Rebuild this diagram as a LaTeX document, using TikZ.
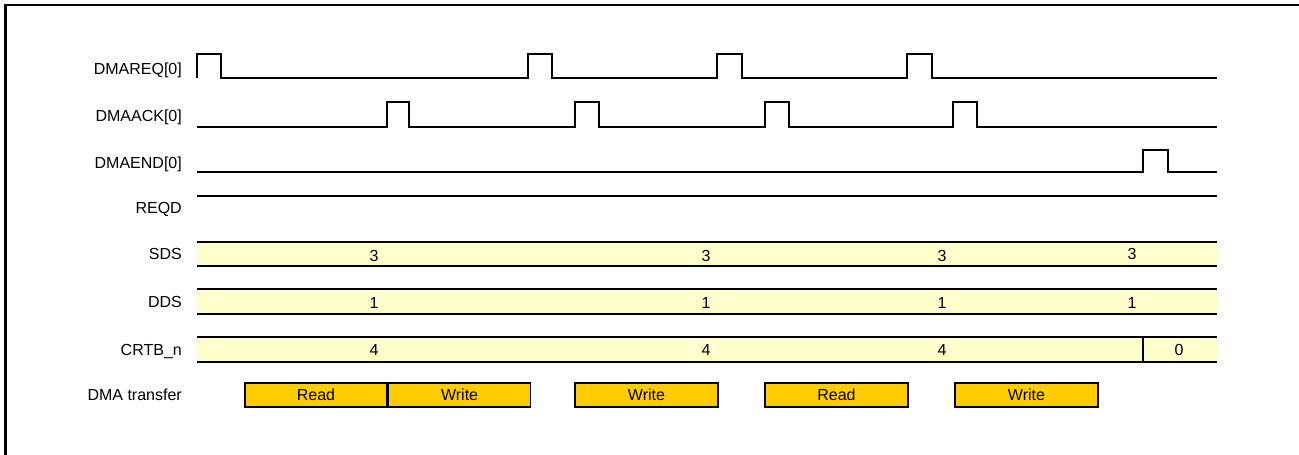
\documentclass[tikz,border=0pt]{standalone}
\usepackage{fontspec}
\setmainfont{Liberation Sans}
\usepackage{xcolor}
\usepackage{tikz}
\usetikzlibrary{positioning}
\definecolor{busyellow}{HTML}{FFFFCC}
\definecolor{xferorange}{HTML}{FFCC00}

\begin{document}
\begin{tikzpicture}[
    x=1pt, y=-1pt,
    font=\fontsize{16}{19}\selectfont,
    wave/.style={line width=2pt, line join=miter},
    busline/.style={line width=1.6pt},
    siglabel/.style={anchor=base east, inner sep=0pt},
    busval/.style={anchor=base, inner sep=0pt},
    xfer/.style={rectangle, draw, line width=1.6pt, fill=xferorange, minimum height=24pt, inner sep=0pt},
]
\useasboundingbox (0,0) rectangle (1299,455);

% Frame
\draw[line width=2.5pt] (5.5,455) -- (5.5,5) -- (1299,5);

% Signal names
\node[siglabel] (lreq) at (182,74) {DMAREQ[0]};
\node[siglabel] (lack) at (182,121.5) {DMAACK[0]};
\node[siglabel] (lend) at (182,168) {DMAEND[0]};
\node[siglabel] (lreqd) at (182,213) {REQD};
\node[siglabel] (lsds) at (182,259) {SDS};
\node[siglabel] (ldds) at (182,307) {DDS};
\node[siglabel] (lcrtb) at (182,355) {CRTB\_n};
\node[siglabel] (lxfer) at (182,400) {DMA transfer};

% Waveforms
\draw[wave] (197,78) -- (197,54) -- (221,54) -- (221,78)
    -- (528,78) -- (528,54) -- (552,54) -- (552,78)
    -- (717,78) -- (717,54) -- (742,54) -- (742,78)
    -- (907,78) -- (907,54) -- (932,54) -- (932,78) -- (1217,78);
\draw[wave] (197,126.5) -- (387,126.5) -- (387,102) -- (409,102) -- (409,126.5)
    -- (575,126.5) -- (575,102) -- (599,102) -- (599,126.5)
    -- (765,126.5) -- (765,102) -- (789,102) -- (789,126.5)
    -- (953,126.5) -- (953,102) -- (977,102) -- (977,126.5) -- (1217,126.5);
\draw[wave] (197,172) -- (1143,172) -- (1143,150) -- (1168,150) -- (1168,172) -- (1217,172);
\draw[wave] (197,196) -- (1217,196);

% Buses
\fill[busyellow] (197,242) rectangle (1217,266);
\draw[busline] (197,242) -- (1217,242) (197,266) -- (1217,266);
\fill[busyellow] (197,289) rectangle (1217,314);
\draw[busline] (197,289) -- (1217,289) (197,314) -- (1217,314);
\fill[busyellow] (197,337) rectangle (1217,362);
\draw[busline] (197,337) -- (1217,337) (197,362) -- (1217,362) (1143,337) -- (1143,362);

\node[busval] (sds1) at (374,261) {3};
\node[busval] (sds2) at (706,261) {3};
\node[busval] (sds3) at (942,261) {3};
\node[busval] (sds4) at (1132,259) {3};
\node[busval] (dds1) at (374,308.5) {1};
\node[busval] (dds2) at (706,308.5) {1};
\node[busval] (dds3) at (942,308.5) {1};
\node[busval] (dds4) at (1132,308.5) {1};
\node[busval] (crtb1) at (374,355) {4};
\node[busval] (crtb2) at (706,355) {4};
\node[busval] (crtb3) at (942,355) {4};
\node[busval] (crtb4) at (1179,355) {0};

% Transfers
\node[xfer, minimum width=142pt] (rd1) at (316,395) {Read};
\node[xfer, minimum width=142pt, right=0pt of rd1] (wr1) {Write};
\node[xfer, minimum width=143pt] (wr2) at (646.5,395) {Write};
\node[xfer, minimum width=143pt] (rd2) at (836.5,395) {Read};
\node[xfer, minimum width=143pt] (wr3) at (1026.5,395) {Write};

\end{tikzpicture}
\end{document}
